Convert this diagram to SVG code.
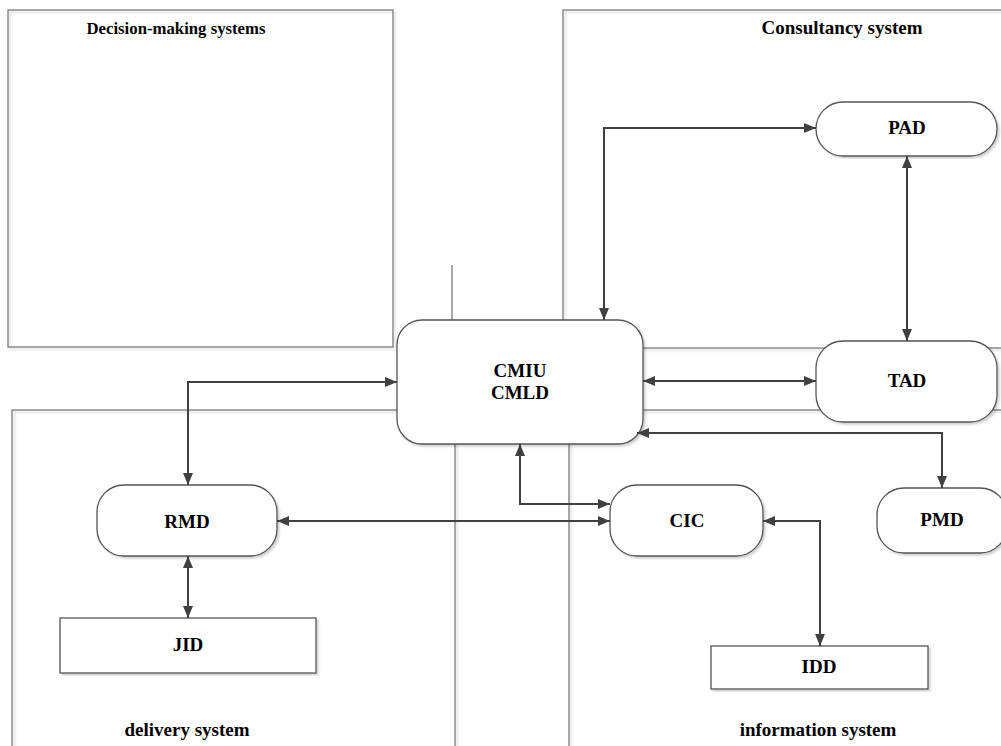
<svg xmlns="http://www.w3.org/2000/svg" width="1001" height="746" viewBox="0 0 1001 746">
<defs>
<filter id="sh" x="-5%" y="-5%" width="110%" height="110%">
<feDropShadow dx="2" dy="2" stdDeviation="1" flood-color="#000" flood-opacity="0.18"/>
</filter>
<marker id="ah" viewBox="0 0 12 10" refX="12" refY="5" markerWidth="12" markerHeight="10" markerUnits="userSpaceOnUse" orient="auto-start-reverse">
<path d="M0,0 L12,5 L0,10 z" fill="#404040"/>
</marker>
<style>
.cont{fill:none;stroke:#7a7a7a;stroke-width:1.3}
.node{fill:#fff;stroke:#555;stroke-width:1.3}
.lbl{font-family:"Liberation Serif","Times New Roman",serif;font-weight:bold;font-size:19px;fill:#000;text-anchor:middle}
.conn{fill:none;stroke:#404040;stroke-width:2;marker-start:url(#ah);marker-end:url(#ah)}
</style>
</defs>
<rect width="1001" height="746" fill="#fff"/>
<g id="containers">
<g id="decision"><rect class="cont" filter="url(#sh)" x="8" y="10" width="385" height="337"/>
<text class="lbl" x="176" y="34" font-size="17.5" textLength="179" lengthAdjust="spacingAndGlyphs" style="font-size:17.5px">Decision-making systems</text></g>
<g id="consultancy"><rect class="cont" filter="url(#sh)" x="563" y="10" width="460" height="338"/>
<text class="lbl" x="842" y="34">Consultancy system</text></g>
<g id="delivery"><rect class="cont" filter="url(#sh)" x="12" y="410" width="443" height="350"/>
<text class="lbl" x="187" y="736">delivery system</text></g>
<g id="information"><rect class="cont" filter="url(#sh)" x="569" y="410" width="450" height="350"/>
<text class="lbl" x="818" y="736">information system</text></g>
<line class="cont" x1="452" y1="265" x2="452" y2="320"/>
</g>
<g id="CMIU"><rect class="node" filter="url(#sh)" x="397" y="320" width="246" height="124" rx="25"/>
<text class="lbl" x="520" y="377">CMIU</text><text class="lbl" x="520" y="399">CMLD</text></g>
<g id="PAD"><rect class="node" filter="url(#sh)" x="816" y="102" width="181" height="54" rx="27"/>
<text class="lbl" x="907" y="134">PAD</text></g>
<g id="TAD"><rect class="node" filter="url(#sh)" x="816" y="341" width="181" height="81" rx="27"/>
<text class="lbl" x="907" y="387">TAD</text></g>
<g id="RMD"><rect class="node" filter="url(#sh)" x="97" y="485" width="180" height="71" rx="27"/>
<text class="lbl" x="187" y="528">RMD</text></g>
<g id="CIC"><rect class="node" filter="url(#sh)" x="610" y="485" width="153" height="71" rx="27"/>
<text class="lbl" x="687" y="527">CIC</text></g>
<g id="PMD"><rect class="node" filter="url(#sh)" x="877" y="488" width="130" height="65" rx="27"/>
<text class="lbl" x="942" y="526">PMD</text></g>
<g id="JID"><rect class="node" filter="url(#sh)" x="60" y="618" width="256" height="55"/>
<text class="lbl" x="188" y="651">JID</text></g>
<g id="IDD"><rect class="node" filter="url(#sh)" x="711" y="646" width="217" height="43"/>
<text class="lbl" x="819" y="673">IDD</text></g>
<g id="connectors">
<path class="conn" d="M604,320 V128 H816"/>
<path class="conn" d="M907,156 V341"/>
<path class="conn" d="M643,381 H816"/>
<path class="conn" d="M942,488 V433 H637"/>
<path class="conn" d="M397,382 H188 V485"/>
<path class="conn" d="M277,521 H610"/>
<path class="conn" d="M520,444 V504 H610"/>
<path class="conn" d="M763,521 H820 V646"/>
<path class="conn" d="M188,556 V618"/>
</g>
</svg>
